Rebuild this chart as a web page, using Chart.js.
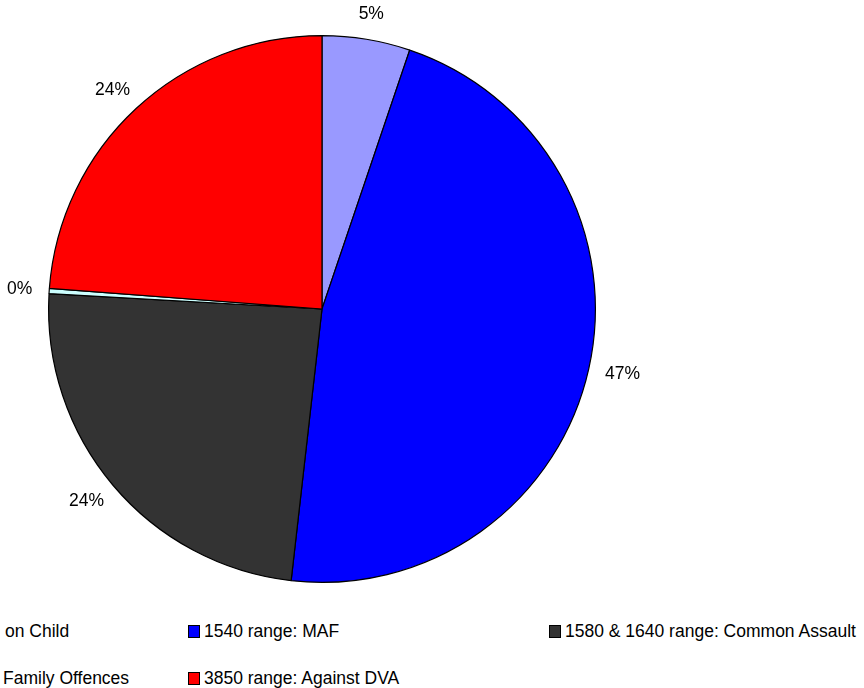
<!DOCTYPE html>
<html>
<head>
<meta charset="utf-8">
<script src="https://cdn.jsdelivr.net/npm/chart.js@4"></script>
<style>
  html, body { margin: 0; padding: 0; background: #fff; }
  body { width: 864px; height: 688px; position: relative; overflow: hidden;
         font-family: "Liberation Sans", Arial, sans-serif; }
  #pieBox { position: absolute; left: 0; top: 0; width: 644px; height: 618px; }
  .lg { position: absolute; white-space: nowrap; font-size: 17.5px; color: #000; line-height: 20px; }
  .lg i { position: absolute; left: -16px; top: 4px; width: 10px; height: 11px;
          border: 1px solid #000; box-sizing: content-box; }
</style>
</head>
<body>
<div id="pieBox"><canvas id="pie"></canvas></div>
<div id="legend"></div>
<script>
// Offence categories and their share of the total (percent)
const categories = [
  "on Child",
  "1540 range: MAF",
  "1580 & 1640 range: Common Assault",
  "Family Offences",
  "3850 range: Against DVA"
];
const shares = [5.2, 46.6, 24.1, 0.3, 23.8];
const sliceColors = ["#9999FF", "#0000FF", "#333333", "#CCFFFF", "#FF0000"];

// Legend text anchor (left edge of text, vertical centre) for each entry
const legendSpots = [
  [5, 631], [204, 631], [565, 631], [3, 678], [204, 678]
];

// Percentage labels placed just outside each slice, at its mid-angle;
// the text box is pushed outward so its nearest edge sits at a fixed gap
const outsideLabels = {
  id: 'outsideLabels',
  afterDatasetsDraw(chart) {
    const ctx = chart.ctx;
    const meta = chart.getDatasetMeta(0);
    const data = chart.data.datasets[0].data;
    const total = data.reduce((a, b) => a + b, 0);
    ctx.save();
    ctx.font = '17.5px "Liberation Sans", Arial, sans-serif';
    ctx.fillStyle = '#000';
    ctx.textAlign = 'center';
    ctx.textBaseline = 'middle';
    meta.data.forEach((arc, i) => {
      const text = Math.round(data[i] / total * 100) + '%';
      const w = ctx.measureText(text).width;
      const h = 16;
      const mid = (arc.startAngle + arc.endAngle) / 2;
      const r = arc.outerRadius + 17;
      const cx = Math.cos(mid), cy = Math.sin(mid);
      const x = arc.x + cx * r + cx * w / 2;
      const y = arc.y + cy * r + cy * h / 2;
      ctx.fillText(text, x, y);
    });
    ctx.restore();
  }
};

new Chart(document.getElementById('pie'), {
  type: 'pie',
  data: {
    labels: categories,
    datasets: [{
      data: shares,
      backgroundColor: sliceColors,
      borderColor: '#000',
      borderWidth: 1.2,
      borderAlign: 'center'
    }]
  },
  options: {
    responsive: true,
    maintainAspectRatio: false,
    animation: false,
    layout: { padding: 35 },
    plugins: {
      legend: { display: false },
      tooltip: { enabled: false }
    }
  },
  plugins: [outsideLabels]
});

// Legend below the pie
const legend = document.getElementById('legend');
categories.forEach((name, i) => {
  const d = document.createElement('div');
  d.className = 'lg';
  d.style.left = legendSpots[i][0] + 'px';
  d.style.top = (legendSpots[i][1] - 10) + 'px';
  if (legendSpots[i][0] >= 16) {
    const sw = document.createElement('i');
    sw.style.background = sliceColors[i];
    d.appendChild(sw);
  }
  d.appendChild(document.createTextNode(name));
  legend.appendChild(d);
});
</script>
</body>
</html>
